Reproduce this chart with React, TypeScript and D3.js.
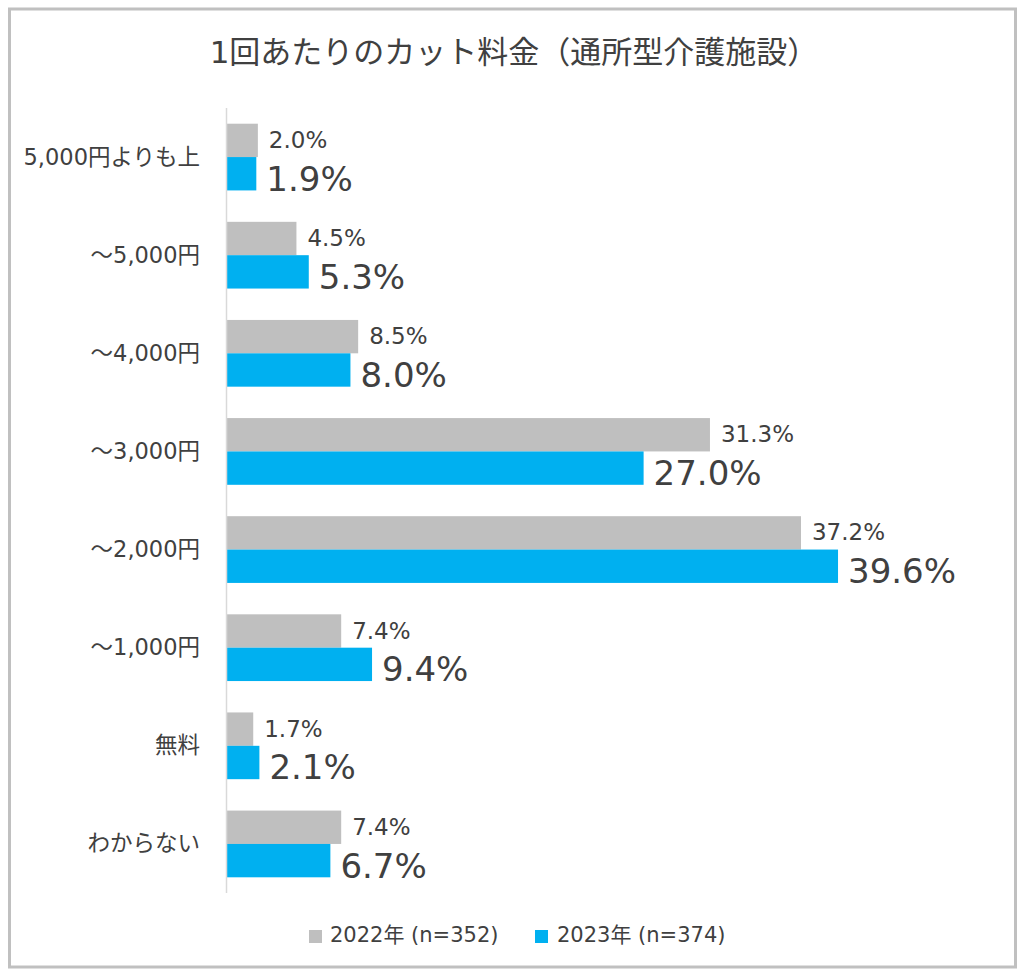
import React from "react";
import * as d3 from "d3";

const categories = ["5,000円よりも上", "～5,000円", "～4,000円", "～3,000円", "～2,000円", "～1,000円", "無料", "わからない"];
const values2022 = [2.0, 4.5, 8.5, 31.3, 37.2, 7.4, 1.7, 7.4];
const values2023 = [1.9, 5.3, 8.0, 27.0, 39.6, 9.4, 2.1, 6.7];
const seriesNames = ["2022年 (n=352)", "2023年 (n=374)"];
const title = "1回あたりのカット料金（通所型介護施設）";

const W = 1024;
const H = 974;
const GRAY = "#bfbfbf";
const BLUE = "#00b0f0";
const TEXT = "#404040";
const FONT = "'DejaVu Sans', 'Noto Sans CJK JP', sans-serif";

export default function App() {
  const x = d3.scaleLinear().domain([0, 40]).range([227, 227 + 40 * 15.43]);
  const y = d3.scaleBand<string>().domain(categories).range([108, 893]).paddingInner(0.32).paddingOuter(0.16);
  const bw = y.bandwidth() / 2;

  return (
    <svg width={W} height={H} style={{ position: "absolute", left: 0, top: 0, background: "#fff" }} fontFamily={FONT}>
      <rect x={0} y={0} width={W} height={H} fill="#fff" />
      <rect x={9.5} y={9} width={1006} height={958} fill="none" stroke="#c0c0c0" strokeWidth={3} />
      <text x={514} y={63} textAnchor="middle" fontSize={31} fill={TEXT}>{title}</text>

      {categories.map((c, i) => {
        const y0 = y(c) as number;
        const g = values2022[i];
        const b = values2023[i];
        return (
          <g key={c}>
            <rect x={x(0)} y={y0} width={x(g) - x(0)} height={bw} fill={GRAY} />
            <rect x={x(0)} y={y0 + bw} width={x(b) - x(0)} height={bw} fill={BLUE} />
            <text x={x(g) + 11} y={y0 + bw / 2 + 7.5} fontSize={23} fill={TEXT}>{g.toFixed(1)}%</text>
            <text x={x(b) + 10} y={y0 + bw * 1.5 + 17} fontSize={34} fill={TEXT}>{b.toFixed(1)}%</text>
            <text x={200} y={y0 + y.bandwidth() / 2 + 7.5} textAnchor="end" fontSize={22.5} fill={TEXT}>{c}</text>
          </g>
        );
      })}

      <line x1={x(0) - 0.5} x2={x(0) - 0.5} y1={108} y2={893} stroke="#d9d9d9" strokeWidth={1.5} />

      <rect x={309} y={930} width={13} height={13} fill={GRAY} />
      <text x={330} y={942} fontSize={21} fill={TEXT}>{seriesNames[0]}</text>
      <rect x={535} y={930} width={13} height={13} fill={BLUE} />
      <text x={557} y={942} fontSize={21} fill={TEXT}>{seriesNames[1]}</text>
    </svg>
  );
}
